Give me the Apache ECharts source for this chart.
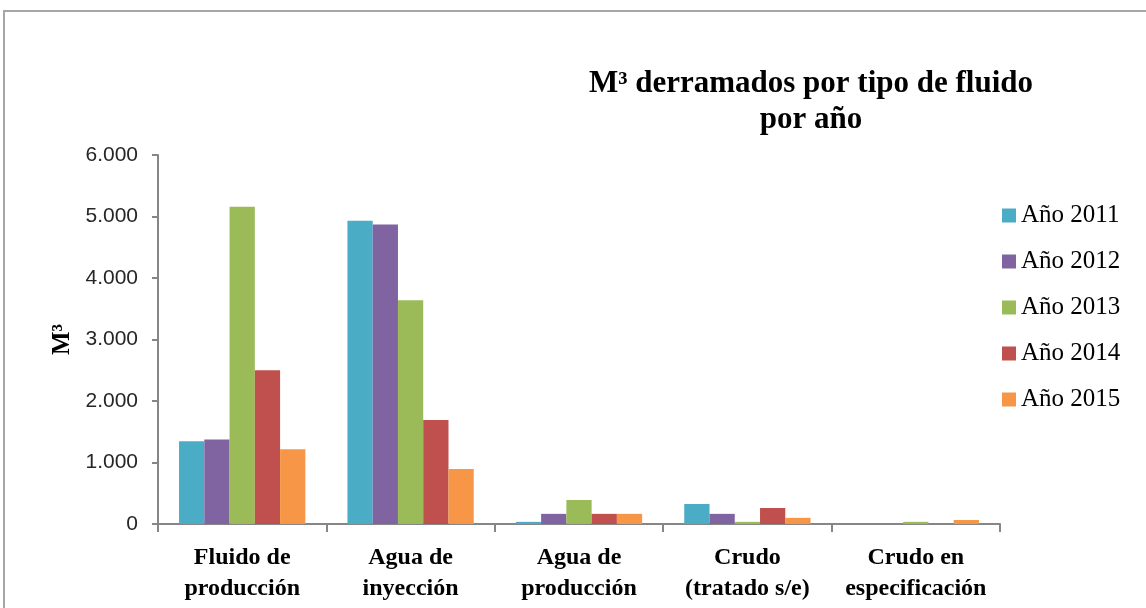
<!DOCTYPE html>
<html>
<head>
<meta charset="utf-8">
<script src="https://cdn.jsdelivr.net/npm/echarts@6/dist/echarts.min.js"></script>
<style>
  html, body { margin: 0; padding: 0; background: #fff; }
  #chart { width: 1146px; height: 608px; }
</style>
</head>
<body>
<div id="chart"></div>
<script>
// categorías y valores (m3)
var categorias = ['Fluido de\nproducción', 'Agua de\ninyección', 'Agua de\nproducción', 'Crudo\n(tratado s/e)', 'Crudo en\nespecificación'];
var anios = ['Año 2011', 'Año 2012', 'Año 2013', 'Año 2014', 'Año 2015'];
var datos2011 = [1345, 4930, 35, 325, 0];
var datos2012 = [1375, 4870, 165, 165, 0];
var datos2013 = [5160, 3640, 390, 35, 35];
var datos2014 = [2500, 1690, 165, 260, 0];
var datos2015 = [1215, 895, 165, 100, 65];
var colores = ['#4BACC6', '#8064A2', '#9BBB59', '#C0504D', '#F79646'];

var myChart = echarts.init(document.getElementById('chart'));

var valores = [datos2011, datos2012, datos2013, datos2014, datos2015];
var series = anios.map(function (nombre, i) {
    return {
        name: nombre,
        type: 'bar',
        barGap: '0%',
        barCategoryGap: '25%',
        data: valores[i]
    };
});

option = {
    color: colores,
    animation: false,
    title: {
        text: 'M³ derramados por tipo de fluido\npor año',
        left: 806,
        top: 61,
        textAlign: 'center',
        textStyle: {
            fontFamily: 'Liberation Serif',
            fontWeight: 'bold',
            fontSize: 31,
            lineHeight: 36,
            color: '#000'
        }
    },
    legend: {
        orient: 'vertical',
        left: 997,
        top: 198,
        icon: 'rect',
        itemWidth: 14,
        itemHeight: 14,
        itemGap: 21,
        itemTextGap: 4,
        itemStyle: { borderWidth: 0 },
        textStyle: {
            fontFamily: 'Liberation Serif',
            fontSize: 25,
            lineHeight: 25,
            color: '#000'
        },
        data: anios
    },
    grid: {
        left: 158,
        right: 146,
        top: 155,
        bottom: 84
    },
    xAxis: [
        {
            type: 'category',
            data: categorias,
            axisLine: { lineStyle: { color: '#868686', width: 2 } },
            axisTick: { show: true, length: 8, lineStyle: { color: '#868686', width: 2 } },
            axisLabel: {
                margin: 18,
                interval: 0,
                fontFamily: 'Liberation Serif',
                fontWeight: 'bold',
                fontSize: 24,
                lineHeight: 31,
                color: '#000'
            }
        }
    ],
    yAxis: [
        {
            type: 'value',
            min: 0,
            max: 6000,
            interval: 1000,
            name: 'M³',
            nameLocation: 'middle',
            nameGap: 80,
            nameRotate: 90,
            nameTextStyle: {
                fontFamily: 'Liberation Serif',
                fontWeight: 'bold',
                fontSize: 25,
                color: '#000'
            },
            axisLine: { show: true, lineStyle: { color: '#868686', width: 2 } },
            axisTick: { show: true, length: 6, lineStyle: { color: '#868686', width: 2 } },
            splitLine: { show: false },
            axisLabel: {
                margin: 20,
                fontFamily: 'Liberation Sans',
                fontSize: 21,
                color: '#262626',
                formatter: function (v) {
                    return v === 0 ? '0' : (v / 1000).toFixed(3);
                }
            }
        }
    ],
    graphic: [
        {
            type: 'rect',
            shape: { x: 4, y: 11, width: 1200, height: 700 },
            style: { fill: 'none', stroke: '#a6a6a6', lineWidth: 2 },
            silent: true
        }
    ],
    series: series
};

myChart.setOption(option);
</script>
</body>
</html>
